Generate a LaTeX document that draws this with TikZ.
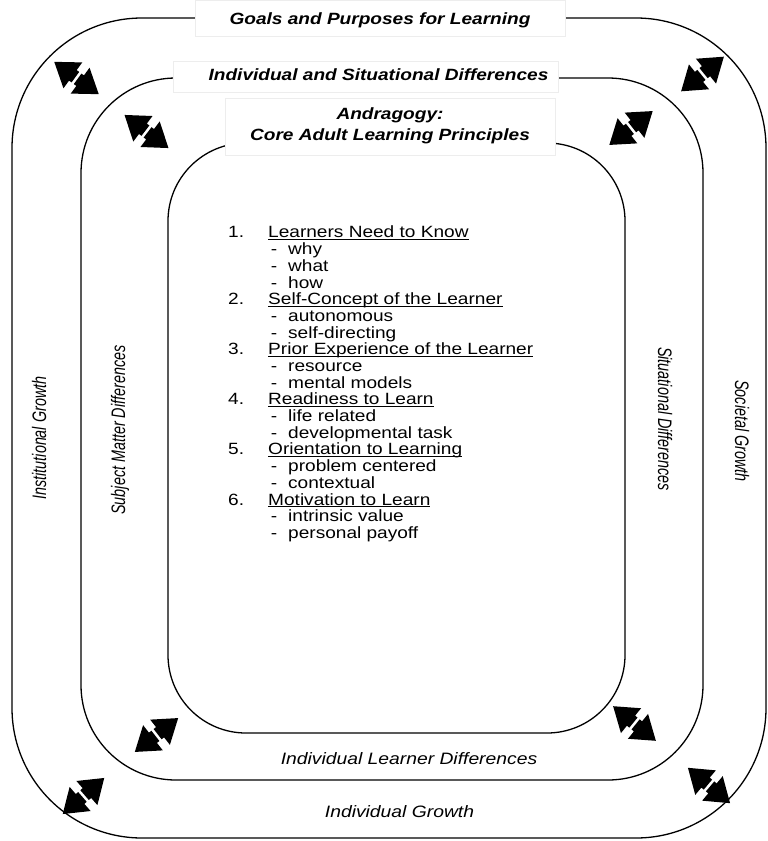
\documentclass[tikz,border=0pt]{standalone}
\usepackage{graphicx}
\usepackage{fontspec}
\setmainfont{Liberation Sans}

% horizontal text is set slightly wide, side labels narrow
\newcommand\widetext[1]{\scalebox{1.17}[1]{#1}}
\newcommand\sidetext[1]{\scalebox{0.86}[1.17]{#1}}
\newcommand\ulx[1]{\underline{\smash{#1}}}
\newcommand\itm[2]{\makebox[34.2pt][l]{#1}\ulx{#2}}
\newcommand\subitm[1]{\hspace*{36.5pt}\makebox[14.8pt][l]{-}#1}

\tikzset{
  ring/.style={draw=black, line width=1.3pt, minimum width=#1},
  titlebox/.style={draw=black!7, fill=white, line width=0.6pt, inner sep=0pt},
  titletext/.style={inner sep=0pt, font=\fontsize{16.3}{20}\selectfont\bfseries\itshape},
  sidelabel/.style={inner sep=0pt, font=\fontsize{16.7}{18}\selectfont\itshape},
  baselabel/.style={inner sep=0pt, font=\fontsize{16.5}{18}\selectfont\itshape},
  listtext/.style={inner sep=0pt, font=\fontsize{16.3}{16.6}\selectfont},
  dblarrow/.pic={
    \fill (-27.5,0) -- (-4.5,-16) -- (-4.5,-6.5) -- (-1.4,-6.5) -- (-1.4,6.5)
          -- (-4.5,6.5) -- (-4.5,16) -- cycle;
    \fill (27.5,0) -- (4.5,-16) -- (4.5,-6.5) -- (1.4,-6.5) -- (1.4,6.5)
          -- (4.5,6.5) -- (4.5,16) -- cycle;
  }
}

\begin{document}
\begin{tikzpicture}[x=1pt, y=-1pt]
\useasboundingbox (0,0) rectangle (768,841);

% the three nested rounded frames
\node[ring=754pt, minimum height=820pt, rounded corners=130pt] (outer) at (389,428) {};
\node[ring=622pt, minimum height=702pt, rounded corners=95pt] (middle) at (392,429) {};
\node[ring=457pt, minimum height=590pt, rounded corners=78pt] (inner) at (396.5,438) {};

% title boxes sitting on the frames
\node[titlebox, minimum width=370pt, minimum height=36pt] (goalsbox) at (380,18) {};
\node[titletext, anchor=base] (goals) at (380,24.3) {\widetext{Goals and Purposes for Learning}};

\node[titlebox, minimum width=385pt, minimum height=31pt] (isdbox) at (365.5,76.5) {};
\node[titletext, anchor=base] (isd) at (378.5,80) {\widetext{Individual and Situational Differences}};

\node[titlebox, minimum width=330pt, minimum height=57pt] (andbox) at (390,126.5) {};
\node[titletext, anchor=base] (andr1) at (390,119) {\widetext{Andragogy:}};
\node[titletext, anchor=base] (andr2) at (390,140) {\widetext{Core Adult Learning Principles}};

% the six principles
\node[listtext, anchor=north west] (principles) at (228,225.9) {\widetext{%
\begin{tabular}{@{}l@{}}
\itm{1.}{Learners Need to Know}\\
\subitm{why}\\
\subitm{what}\\
\subitm{how}\\
\itm{2.}{Self-Concept of the Learner}\\
\subitm{autonomous}\\
\subitm{self-directing}\\
\itm{3.}{Prior Experience of the Learner}\\
\subitm{resource}\\
\subitm{mental models}\\
\itm{4.}{Readiness to Learn}\\
\subitm{life related}\\
\subitm{developmental task}\\
\itm{5.}{Orientation to Learning}\\
\subitm{problem centered}\\
\subitm{contextual}\\
\itm{6.}{Motivation to Learn}\\
\subitm{intrinsic value}\\
\subitm{personal payoff}
\end{tabular}}};

% side labels
\node[sidelabel, anchor=base, rotate=90] (instg) at (46,438) {\sidetext{Institutional Growth}};
\node[sidelabel, anchor=base, rotate=90] (smd) at (125,430) {\sidetext{Subject Matter Differences}};
\node[sidelabel, anchor=base, rotate=-90] (sitd) at (658,419) {\sidetext{Situational Differences}};
\node[sidelabel, anchor=base, rotate=-90] (socg) at (735,431) {\sidetext{Societal Growth}};

% bottom labels
\node[baselabel, anchor=base] (ild) at (409,764) {\widetext{Individual Learner Differences}};
\node[baselabel, anchor=base] (indg) at (399.5,817) {\widetext{Individual Growth}};

% two-way arrows between the frames
\pic[rotate=-36] at (76.5,78) {dblarrow};
\pic[rotate=-37] at (146.5,131.5) {dblarrow};
\pic[rotate=39] at (702.5,74) {dblarrow};
\pic[rotate=38] at (631,128) {dblarrow};
\pic[rotate=38] at (156.5,735) {dblarrow};
\pic[rotate=41] at (83.5,796) {dblarrow};
\pic[rotate=-39] at (634.5,723.5) {dblarrow};
\pic[rotate=-40] at (709,785.5) {dblarrow};
\end{tikzpicture}
\end{document}
